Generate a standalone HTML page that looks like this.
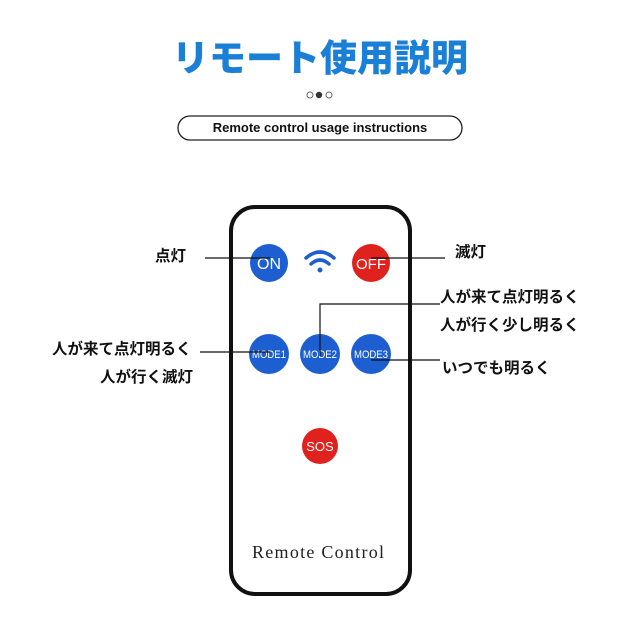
<!DOCTYPE html>
<html><head><meta charset="utf-8"><style>
body{margin:0;width:640px;height:640px;background:#fff;position:relative;overflow:hidden;font-family:"Liberation Sans","Noto Sans CJK JP",sans-serif}
.a{position:absolute;white-space:nowrap}
.t{font-size:15.5px;font-weight:bold;color:#111;line-height:18px}
</style></head><body>
<div class="a" style="left:0;width:640px;top:36px;text-align:center;font-size:37px;font-weight:900;color:#1a7fd6;line-height:46px">リモート使用説明</div>
<svg class="a" style="left:0;top:0" width="640" height="640">
<circle cx="310" cy="95" r="3" fill="none" stroke="#666" stroke-width="1"/>
<circle cx="319" cy="95" r="3.2" fill="#333"/>
<circle cx="329" cy="95" r="3" fill="none" stroke="#666" stroke-width="1"/>
<rect x="178" y="116" width="284" height="24" rx="12" fill="none" stroke="#222" stroke-width="1.3"/>
<rect x="231" y="207" width="179" height="387" rx="24" fill="#fff" stroke="#111" stroke-width="4"/>
<g font-family="Liberation Sans,sans-serif" fill="#fff" text-anchor="middle">
<circle cx="269" cy="263" r="19" fill="#1d5fd0"/><text x="269" y="269" font-size="16">ON</text>
<circle cx="371" cy="263" r="19" fill="#e0221e"/><text x="371" y="269" font-size="15">OFF</text>
<circle cx="269" cy="354" r="20" fill="#1d5fd0"/><text x="269" y="358" font-size="11" textLength="34" lengthAdjust="spacingAndGlyphs">MODE1</text>
<circle cx="320" cy="354" r="20" fill="#1d5fd0"/><text x="320" y="358" font-size="11" textLength="34" lengthAdjust="spacingAndGlyphs">MODE2</text>
<circle cx="371" cy="354" r="20" fill="#1d5fd0"/><text x="371" y="358" font-size="11" textLength="34" lengthAdjust="spacingAndGlyphs">MODE3</text>
<circle cx="320" cy="446" r="18" fill="#e0221e"/><text x="320" y="451" font-size="13">SOS</text>
</g>
<g fill="none" stroke="#1d5fd0" stroke-width="3.5" stroke-linecap="round">
<path d="M306 258 Q320 246 334 258"/><path d="M311 264 Q320 256 329 264"/>
</g>
<circle cx="320" cy="270" r="2.5" fill="#1d5fd0"/>
<text x="318" y="558" text-anchor="middle" font-family="Liberation Serif,serif" font-size="18" fill="#222" textLength="132" lengthAdjust="spacing">Remote Control</text>
<g stroke="#111" stroke-width="1.2" fill="none">
<path d="M205 258H270"/><path d="M371 258H445"/>
<path d="M320 356V304H440"/><path d="M200 352H270"/><path d="M371 360H440"/>
</g>
</svg>
<div class="a t" style="left:155px;top:248px">点灯</div>
<div class="a t" style="left:455px;top:244px">滅灯</div>
<div class="a t" style="left:440px;top:289px">人が来て点灯明るく</div>
<div class="a t" style="left:440px;top:317px">人が行く少し明るく</div>
<div class="a t" style="left:52px;top:341px">人が来て点灯明るく</div>
<div class="a t" style="left:100px;top:369px">人が行く滅灯</div>
<div class="a t" style="left:442px;top:360px">いつでも明るく</div>
<div class="a" style="left:178px;width:284px;top:120px;text-align:center;font-size:13px;font-weight:bold;color:#111;line-height:16px">Remote control usage instructions</div>
</body></html>
